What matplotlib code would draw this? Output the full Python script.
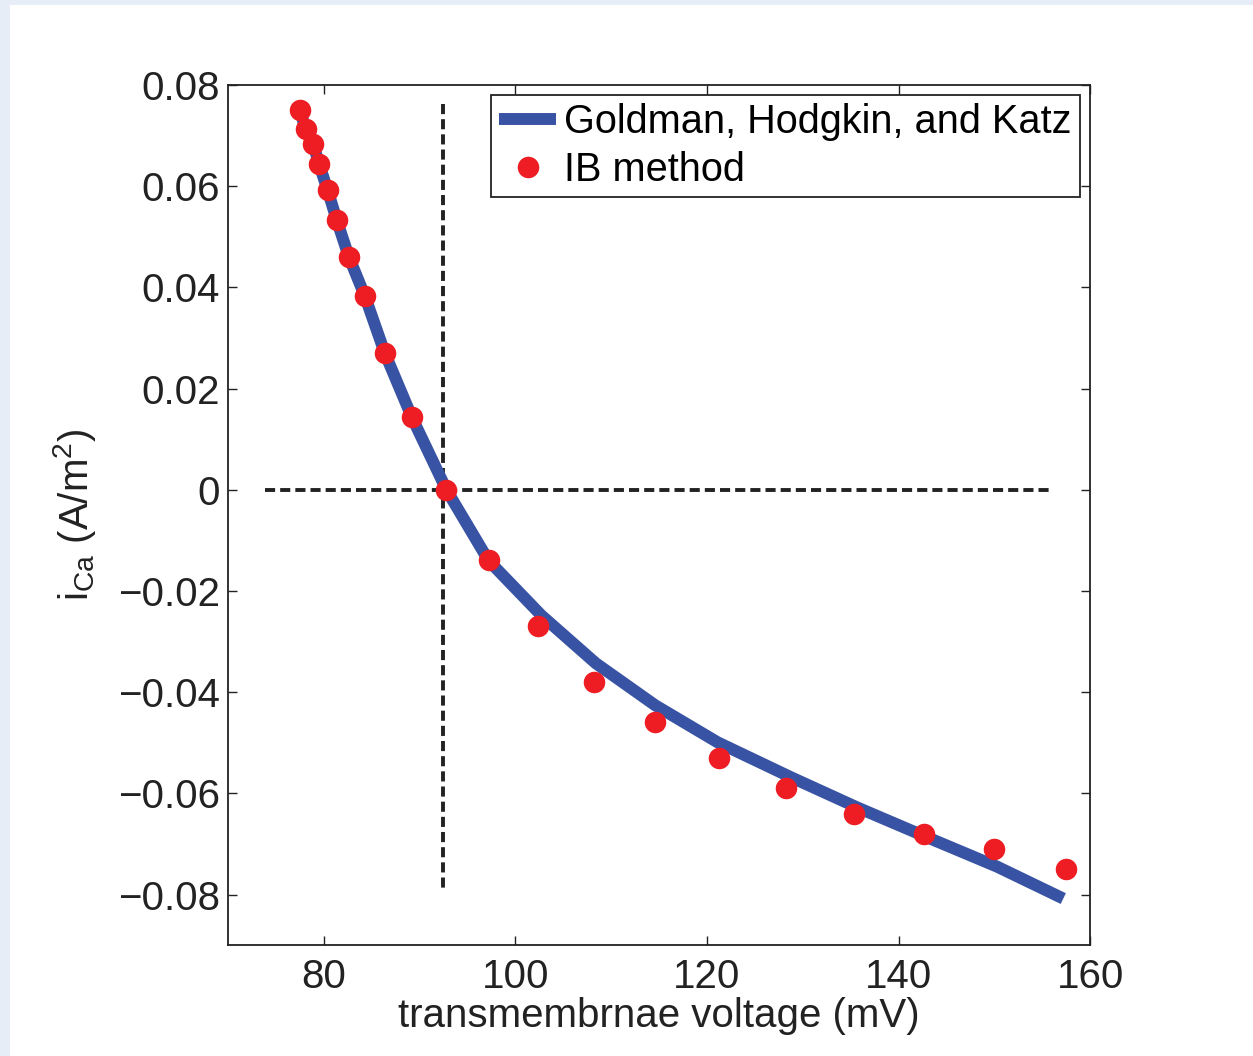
import matplotlib
matplotlib.use("Agg")
import matplotlib.pyplot as plt
from matplotlib.patches import Rectangle

plt.rcParams["font.family"] = ["Liberation Sans", "DejaVu Sans"]
plt.rcParams["mathtext.fontset"] = "custom"
plt.rcParams["mathtext.rm"] = "Liberation Sans"
plt.rcParams["mathtext.it"] = "Liberation Sans"

# GHK current curve (voltage in mV, current in A/m^2)
ghk_v = [77.5, 78.1, 78.9, 79.5, 80.4, 81.35, 82.6, 84.3, 86.35, 89.2, 92.8,
         97.2, 102.7, 108.4, 114.6, 121.1, 128.75, 135.7, 143.0, 150.3, 157.2]
ghk_i = [0.075, 0.0713, 0.0683, 0.0644, 0.0592, 0.0533, 0.0461, 0.0382, 0.0271,
         0.0143, 0.0, -0.014, -0.0248, -0.0343, -0.0426, -0.0499, -0.0568,
         -0.0628, -0.0687, -0.0745, -0.0808]

# Immersed boundary simulation results
ib_v = [77.5, 78.1, 78.9, 79.5, 80.4, 81.35, 82.6, 84.3, 86.35, 89.2, 92.8,
        97.2, 102.4, 108.2, 114.6, 121.25, 128.3, 135.4, 142.7, 150.0, 157.5]
ib_i = [0.075, 0.0713, 0.0683, 0.0644, 0.0592, 0.0533, 0.0461, 0.0382, 0.0271,
        0.0143, 0.0, -0.0139, -0.0269, -0.038, -0.0459, -0.0531, -0.059,
        -0.064, -0.0681, -0.0711, -0.075]

# Reversal potential guides
rev_v = 92.4
vguide_i = [0.0762, -0.0790]
hguide_v = [73.85, 156.0]

xticks = [80, 100, 120, 140, 160]
xtick_labels = ["80", "100", "120", "140", "160"]
yticks = [0.08, 0.06, 0.04, 0.02, 0.0, -0.02, -0.04, -0.06, -0.08]
ytick_labels = ["0.08", "0.06", "0.04", "0.02", "0",
                "\u22120.02", "\u22120.04", "\u22120.06", "\u22120.08"]

blue = "#3953A4"
red = "#EE1D23"
ink = "#222222"
fs = 29

fig = plt.figure(figsize=(12.53, 10.56), dpi=100, facecolor="#E6EDF7")
panel = Rectangle((10 / 1253, 0), 1, 1 - 5 / 1056, transform=fig.transFigure,
                  facecolor="white", edgecolor="none", zorder=-10)
fig.add_artist(panel)

ax = fig.add_axes([0.182, 0.105, 0.688, 0.8145])
ax.set_facecolor("white")

ax.plot([rev_v, rev_v], vguide_i, color=ink, lw=2.8, dashes=(2.6, 1.3), zorder=2)
ax.plot(hguide_v, [0, 0], color=ink, lw=2.8, dashes=(2.6, 1.3), zorder=2)

ax.plot(ghk_v, ghk_i, color=blue, lw=8.6, solid_capstyle="butt",
        label="Goldman, Hodgkin, and Katz", zorder=3)
ax.plot(ib_v, ib_i, linestyle="none", marker="o", markersize=15.5,
        markerfacecolor=red, markeredgecolor="none", label="IB method", zorder=4)

ax.set_xlim(70, 160)
ax.set_ylim(-0.09, 0.08)
ax.set_xticks(xticks)
ax.set_xticklabels(xtick_labels)
ax.set_yticks(yticks)
ax.set_yticklabels(ytick_labels)

ax.tick_params(direction="in", length=6.5, width=1.0, colors=ink,
               labelsize=fs, top=True, right=True, pad=6)
ax.tick_params(axis="x", pad=9)
for s in ax.spines.values():
    s.set_color(ink)
    s.set_linewidth(1.3)

ax.set_xlabel("transmembrnae voltage (mV)", fontsize=fs, color=ink, labelpad=1)
ax.set_ylabel(r"i$_{\mathrm{Ca}}$ (A/m$^{2}$)", fontsize=fs, color=ink, labelpad=14)

leg = ax.legend(loc="upper right", bbox_to_anchor=(0.988, 0.988), fontsize=28.6,
                numpoints=1, handlelength=1.45, handletextpad=0.2,
                labelspacing=0.24, borderpad=0.2, borderaxespad=0,
                fancybox=False, framealpha=1, edgecolor=ink)
leg.get_frame().set_linewidth(1.3)

fig.savefig("out.png", dpi=100, facecolor=fig.get_facecolor())
